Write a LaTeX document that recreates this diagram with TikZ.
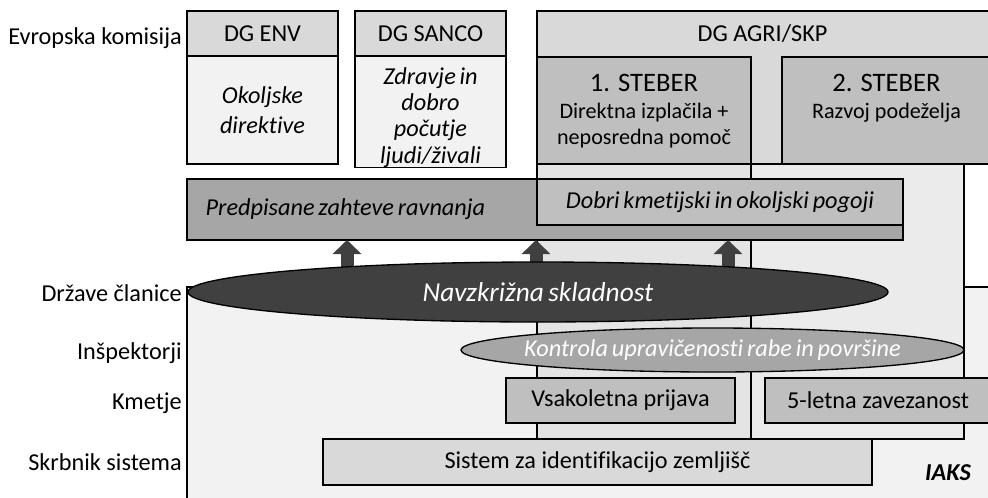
\documentclass[tikz,border=0pt]{standalone}
\usepackage{fontspec}
\setmainfont{Carlito}[Ligatures={NoCommon}, ItalicFeatures={WordSpace=0.7}, BoldItalicFeatures={WordSpace=0.7}]
\usetikzlibrary{positioning, arrows.meta, shapes.geometric}

\definecolor{hdrgray}{HTML}{D9D9D9}
\definecolor{bodygray}{HTML}{F2F2F2}
\definecolor{pillargray}{HTML}{BFBFBF}
\definecolor{midgray}{HTML}{A6A6A6}
\definecolor{ovalgray}{HTML}{404040}
\definecolor{texleft}{HTML}{E4E4E4}
\definecolor{texright}{HTML}{EBEBEB}

\newcommand{\basefont}{\fontsize{18.2}{19.8}\selectfont}
\newcommand{\titlefont}{\fontsize{20}{24}\selectfont}
\newcommand{\subfont}{\fontsize{16.6}{20}\selectfont}
\newcommand{\navzfont}{\fontsize{20.5}{24}\selectfont}
\newcommand{\px}{*0.75pt}

\tikzset{
  box/.style={rectangle, draw=black, line width=1.2pt, inner sep=0pt, outer sep=0pt, align=center, font=\basefont},
  hdrbox/.style={box, fill=hdrgray},
  bodybox/.style={box, fill=bodygray, font=\basefont\itshape},
  pillarbox/.style={box, fill=pillargray},
  reqbox/.style={box, fill=midgray, font=\basefont\itshape},
  oval/.style={ellipse, draw=black, line width=1pt, inner sep=0pt, outer sep=0pt},
  ovaltext/.style={text=white, inner sep=0pt},
  pillartext/.style={anchor=north, align=center, inner sep=0pt, font=\subfont},
  lbl/.style={anchor=base east, font=\basefont, inner sep=0pt},
  uparrow/.style={draw=ovalgray, line width=9.75pt, -{Triangle[length=10.5pt, width=21pt]}}
}

\begin{document}
\begin{tikzpicture}[x=0.75pt, y=-0.75pt]
  \useasboundingbox (0,0) rectangle (988,497);
  \clip (0,0) rectangle (988,497);

  % IAKS area and the textured back panels
  \node[box, fill=bodygray, minimum width=808\px, minimum height=218\px] (iaks) at (591,396) {};
  \node[box, fill=texleft, minimum width=214\px, minimum height=275\px] (texl) at (644,301.5) {};
  \node[box, fill=texright, minimum width=213\px, minimum height=275\px] (texr) at (857.5,301.5) {};

  % European Commission
  \node[hdrbox, minimum width=151\px, minimum height=45\px] (envhdr) at (262.5,33.5) {DG ENV};
  \node[bodybox, minimum width=151\px, minimum height=108\px, below=0pt of envhdr] (envbody) {Okoljske\\[3pt]direktive};
  \node[hdrbox, minimum width=151\px, minimum height=45\px, right=12.75pt of envhdr] (sancohdr) {DG SANCO};
  \node[bodybox, minimum width=151\px, minimum height=108\px, below=0pt of sancohdr] (sancobody) {\rule{0pt}{21pt}Zdravje in\\dobro\\počutje\\ljudi/živali};
  \node[hdrbox, minimum width=454\px, minimum height=153\px, anchor=north west] (agri) at (537,11) {};
  \node[font=\basefont, inner sep=0pt] (agritxt) at (762.5,33.5) {DG AGRI/SKP};
  \node[pillarbox, minimum width=214\px, minimum height=107\px, anchor=north west] (st1) at (537,57) {};
  \node[pillarbox, minimum width=209\px, minimum height=107\px, anchor=north west] (st2) at (782,57) {};
  \node[pillartext] (st1txt) at (644,74) {{\titlefont 1. STEBER}\\Direktna izplačila +\\neposredna pomoč};
  \node[pillartext] (st2txt) at (886.5,74) {{\titlefont 2. STEBER}\\Razvoj podeželja};

  % requirements
  \node[reqbox, minimum width=716\px, minimum height=61\px, text width=509pt, inner xsep=14pt, align=flush left, anchor=north west] (predpis) at (187,179) {Predpisane zahteve ravnanja};
  \node[pillarbox, font=\basefont\itshape, minimum width=366\px, minimum height=46\px, anchor=north west] (dobri) at (537,179) {Dobri kmetijski in okoljski pogoji};

  % cross compliance
  \coordinate (navzc) at (538,292);
  \coordinate (a1) at (347,0);
  \coordinate (a2) at (536,0);
  \coordinate (a3) at (728,0);
  \foreach \c in {a1,a2,a3}
    \draw[uparrow] (navzc -| \c) -- (predpis.south -| \c);
  \node[oval, fill=ovalgray, minimum width=700\px, minimum height=60\px, text=white, font=\navzfont\itshape] (navz) at (navzc) {Navzkrižna skladnost};
  \node[oval, fill=midgray, minimum width=503\px, minimum height=44\px] (kontrola) at (712.5,350) {};
  \node[ovaltext, font=\basefont\itshape] (kontrolatxt) at (kontrola.center) {Kontrola upravičenosti rabe in površine};

  % farmers and system
  \node[pillarbox, minimum width=229\px, minimum height=45\px, anchor=north west] (vsak) at (506,378) {Vsakoletna prijava};
  \node[pillarbox, minimum width=226\px, minimum height=45\px, anchor=north west] (zavez) at (765,378) {5-letna zavezanost};
  \node[hdrbox, minimum width=549\px, minimum height=46\px, anchor=north west] (lpis) at (323,439) {Sistem za identifikacijo zemljišč};
  \node[font=\basefont\bfseries\itshape, inner sep=0pt] (iakstxt) at (948,473) {IAKS};

  % row labels
  \node[lbl] (lblek) at (182,44) {Evropska komisija};
  \node[lbl] (lbldc) at (182,301) {Države članice};
  \node[lbl] (lblin) at (182,359) {Inšpektorji};
  \node[lbl] (lblkm) at (182,409) {Kmetje};
  \node[lbl] (lblsk) at (182,470) {Skrbnik sistema};
\end{tikzpicture}
\end{document}
